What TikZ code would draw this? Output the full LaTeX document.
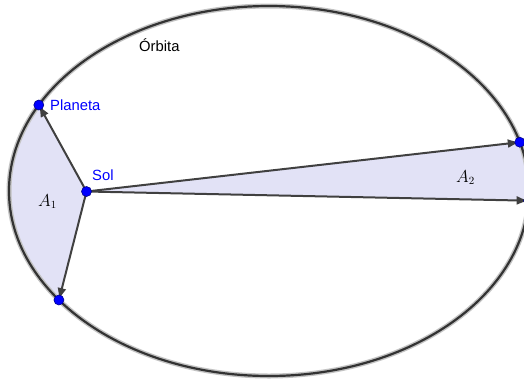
\documentclass[tikz,border=0pt]{standalone}
\usepackage{fontspec}
\setmainfont{Liberation Sans}
\usetikzlibrary{arrows.meta}
\definecolor{fillc}{RGB}{226,226,246}
\definecolor{linec}{RGB}{64,64,64}
\definecolor{orbc}{RGB}{51,51,51}
\definecolor{haloc}{RGB}{195,195,195}
\definecolor{ptblue}{RGB}{0,0,255}
\definecolor{ptedge}{RGB}{0,0,140}
\tikzset{
  region/.style={fill=fillc},
  vec/.style={draw=linec, line width=2pt, -{Latex[length=12pt,width=9pt]}},
  pt/.style={circle, inner sep=0pt, minimum size=10pt, fill=ptblue, draw=ptedge, line width=0.6pt},
  lbl/.style={inner sep=0pt, font=\fontsize{14.8}{17}\selectfont},
  mlbl/.style={inner sep=0pt, font=\fontsize{16}{19}\selectfont},
}
\begin{document}
\begin{tikzpicture}[x=1pt,y=-1pt]
\useasboundingbox (0,0) rectangle (524,383);
\clip (0,0) rectangle (524,383);
\coordinate (C) at (269,191);
\coordinate (S) at (86.5,191.5);
\coordinate (P) at ({269+260*cos(207.7)},{191+185*sin(207.7)});
\coordinate (Q) at ({269+260*cos(143.9)},{191+185*sin(143.9)});
\coordinate (R1) at ({269+260*cos(-15.3)},{191+185*sin(-15.3)});
\coordinate (R2) at ({269+260*cos(3)},{191+185*sin(3)});
% areas
\fill[region] (S) -- plot[domain=207.7:143.9, samples=60] ({269+260*cos(\x)},{191+185*sin(\x)}) -- cycle;
\fill[region] (S) -- plot[domain=-15.3:3, samples=30] ({269+260*cos(\x)},{191+185*sin(\x)}) -- cycle;
% orbit
\draw[haloc, line width=5pt] (C) ellipse [x radius=260pt, y radius=185pt];
\draw[orbc, line width=2.2pt] (C) ellipse [x radius=260pt, y radius=185pt];
% vectors
\draw[vec] (S) -- (P);
\draw[vec] (S) -- (Q);
\draw[vec] (S) -- (R1);
\draw[vec] (S) -- (R2);
% points
\node[pt] (sol) at (S) {};
\node[pt] (planeta) at (P) {};
\node[pt] (q) at (Q) {};
\node[pt] (r1) at (R1) {};
\node[pt] (r2) at (R2) {};
% labels
\node[lbl, text=ptblue, anchor=base west] (lplaneta) at (50,110.5) {Planeta};
\node[lbl, text=ptblue, anchor=base west] (lsol) at (92,180) {Sol};
\node[lbl, anchor=base west] (lorb) at (139,51.5) {Órbita};
\node[mlbl, anchor=base west] (la1) at (38,206) {$A_1$};
\node[mlbl, anchor=base west] (la2) at (456,182) {$A_2$};
\end{tikzpicture}
\end{document}
